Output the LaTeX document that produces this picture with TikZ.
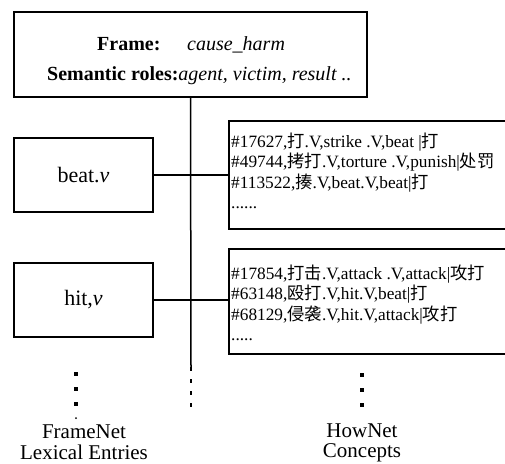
\documentclass[tikz,border=0pt]{standalone}
\usepackage{fontspec}
\setmainfont{Liberation Serif}
\newfontfamily\cjk{Noto Sans CJK SC}
\newcommand\zh[1]{{\cjk #1}}
\newcommand\conceptlines[1]{\vtop{\baselineskip=20.5pt\lineskiplimit=-100pt\relax #1}}
\begin{document}
\begin{tikzpicture}[x=1pt,y=-1pt,
  box/.style={draw, line width=1.6pt, rectangle, inner sep=0pt},
  wire/.style={draw, line width=1.5pt},
  frametext/.style={anchor=base west, inner sep=0pt, font=\fontsize{20}{24}\selectfont},
  entrytext/.style={font=\fontsize{22}{26}\selectfont},
  concepttext/.style={anchor=base west, inner sep=0pt, font=\fontsize{17.3}{20.5}\selectfont},
  captiontext/.style={anchor=base, inner sep=0pt, font=\fontsize{21}{25}\selectfont},
  bigdots/.style={line width=3.5pt, dash pattern=on 4pt off 11pt},
  smalldots/.style={line width=1.5pt, dash pattern=on 4pt off 8pt}]
\clip (0,0) rectangle (505,463);
% frame box
\node[box, minimum width=353pt, minimum height=85pt] (frame) at (190.5,54.5) {};
\node[frametext] (fl) at (97,50) {\textbf{Frame:}};
\node[frametext] (fn) at (187,50) {\textit{cause\_harm}};
\node[frametext] (sr) at (47,80) {\textbf{Semantic roles:}\textit{agent, victim, result ..}};
% lexical entries
\node[box, entrytext, minimum width=139pt, minimum height=74pt] (beat) at (83.5,175) {beat.\textit{v}};
\node[box, entrytext, minimum width=139pt, minimum height=74pt] (hit) at (83.5,300) {hit,\textit{v}};
% concept boxes
\node[box, anchor=north west, minimum width=282pt, minimum height=108pt] (c1) at (228,120) {};
\node[box, anchor=north west, minimum width=282pt, minimum height=105pt] (c2) at (228,248) {};
\node[concepttext] (c1t) at (231,147) {\conceptlines{%
  \hbox{\#17627,\zh{打}.V,strike .V,beat |\zh{打}}%
  \hbox{\#49744,\zh{拷打}.V,torture .V,punish|\zh{处罚}}%
  \hbox{\#113522,\zh{揍}.V,beat.V,beat|\zh{打}}%
  \hbox{......}}};
\node[concepttext] (c2t) at (231,279) {\conceptlines{%
  \hbox{\#17854,\zh{打击}.V,attack .V,attack|\zh{攻打}}%
  \hbox{\#63148,\zh{殴打}.V,hit.V,beat|\zh{打}}%
  \hbox{\#68129,\zh{侵袭}.V,hit.V,attack|\zh{攻打}}%
  \hbox{.....}}};
% connectors
\coordinate (vend) at (191,367);
\coordinate (vdot) at (191,412);
\draw[wire] (frame.south) -- (vend);
\draw[smalldots] (vend) -- (vdot);
\draw[wire] (beat.east) -- (beat.east -| c1.west);
\draw[wire] (hit.east) -- (hit.east -| c2.west);
% continuation dots
\coordinate (ld1) at (76,372);
\coordinate (ld2) at (76,410);
\draw[bigdots] (ld1) -- (ld2);
\fill (76,418) circle (1pt);
\coordinate (rd1) at (362,373);
\coordinate (rd2) at (362,410);
\draw[bigdots] (rd1) -- (rd2);
% captions
\node[captiontext] (fnc1) at (84,438) {FrameNet};
\node[captiontext] (fnc2) at (84,459) {Lexical Entries};
\node[captiontext] (hnc1) at (362,437) {HowNet};
\node[captiontext] (hnc2) at (362,457) {Concepts};
\end{tikzpicture}
\end{document}
